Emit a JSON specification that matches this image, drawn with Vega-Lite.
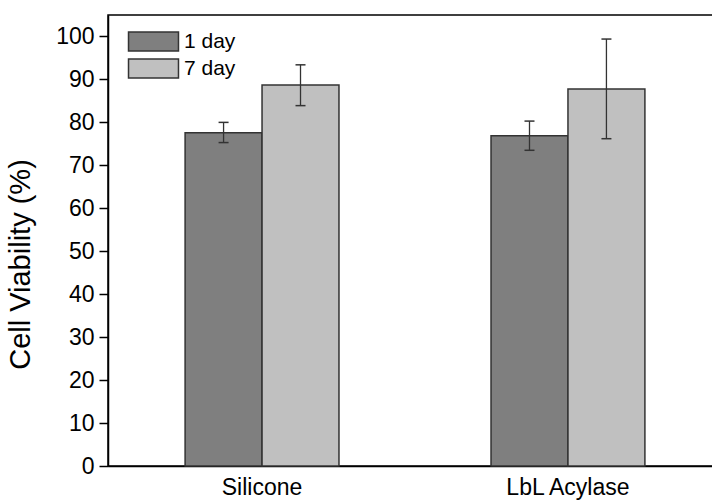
{
  "$schema": "https://vega.github.io/schema/vega-lite/v6.json",
  "width": 614,
  "height": 451,
  "autosize": "none",
  "padding": {"left": 108, "top": 15, "right": 0, "bottom": 37},
  "background": "white",
  "config": {
    "font": "Liberation Sans",
    "view": {"stroke": "black", "strokeWidth": 1.5},
    "axis": {"grid": false, "domainColor": "black", "domainWidth": 1.5, "tickColor": "black", "labelColor": "black", "titleColor": "black", "labelFont": "Liberation Sans", "titleFont": "Liberation Sans"}
  },
  "data": {
    "values": [
      {"material": "Silicone", "time": "1 day", "value": 77.6, "low": 75.3, "high": 80.0},
      {"material": "Silicone", "time": "7 day", "value": 88.7, "low": 83.9, "high": 93.4},
      {"material": "LbL Acylase", "time": "1 day", "value": 76.9, "low": 73.5, "high": 80.3},
      {"material": "LbL Acylase", "time": "7 day", "value": 87.8, "low": 76.2, "high": 99.4}
    ]
  },
  "encoding": {
    "x": {
      "field": "material", "type": "nominal", "sort": ["Silicone", "LbL Acylase"],
      "scale": {"paddingInner": 0.497, "paddingOuter": 0.252},
      "axis": {"title": null, "ticks": false, "labelAngle": 0, "labelFontSize": 23, "labelPadding": 10}
    },
    "xOffset": {"field": "time", "type": "nominal", "scale": {"paddingInner": 0, "paddingOuter": 0}}
  },
  "layer": [
    {
      "mark": {"type": "bar", "stroke": "#333333", "strokeWidth": 1.5, "opacity": 1},
      "encoding": {
        "y": {
          "field": "value", "type": "quantitative",
          "scale": {"domain": [0, 105], "nice": false},
          "axis": {"title": "Cell Viability (%)", "values": [0,10,20,30,40,50,60,70,80,90,100], "labelFontSize": 23, "titleFontSize": 29, "titleFontWeight": "normal", "tickSize": 9, "tickWidth": 1.5, "labelPadding": 5, "titlePadding": 20, "titleY": 249}
        },
        "color": {
          "field": "time", "type": "nominal",
          "scale": {"domain": ["1 day", "7 day"], "range": ["#7f7f7f", "#c0c0c0"]},
          "legend": {
            "title": null, "orient": "none", "legendX": 35, "legendY": 16,
            "symbolType": "M-2.63,-1H2.63V1H-2.63Z", "symbolSize": 361,
            "symbolStrokeColor": "#333333", "symbolStrokeWidth": 1.5, "symbolOpacity": 1,
            "labelFontSize": 21, "labelColor": "black", "labelOffset": 20, "rowPadding": 2
          }
        }
      }
    },
    {
      "mark": {"type": "rule", "color": "#333333", "strokeWidth": 1.3},
      "encoding": {"y": {"field": "low", "type": "quantitative"}, "y2": {"field": "high"}}
    },
    {
      "mark": {"type": "tick", "color": "#333333", "size": 10, "thickness": 1.5, "opacity": 1},
      "encoding": {"y": {"field": "low", "type": "quantitative"}}
    },
    {
      "mark": {"type": "tick", "color": "#333333", "size": 10, "thickness": 1.5, "opacity": 1},
      "encoding": {"y": {"field": "high", "type": "quantitative"}}
    }
  ]
}
